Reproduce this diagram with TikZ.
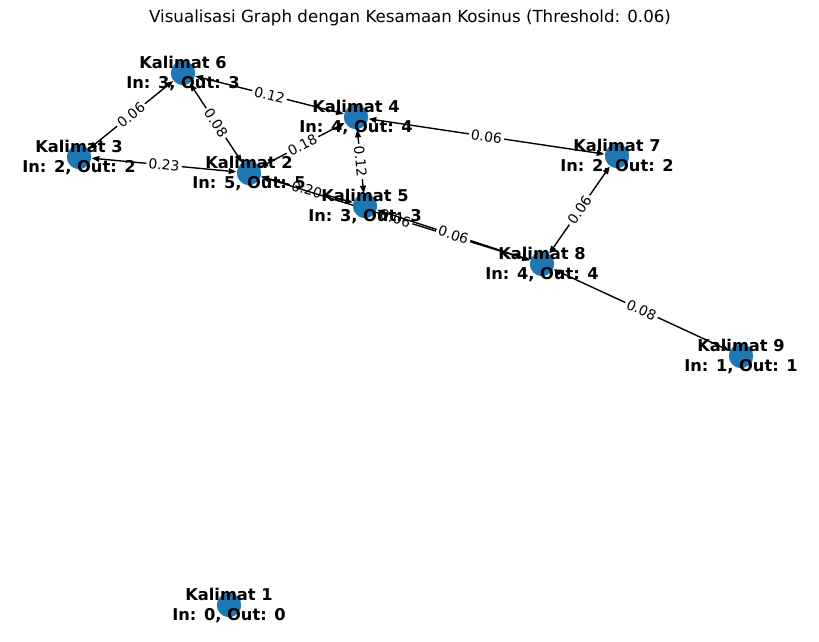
\documentclass[tikz,border=0pt]{standalone}
\usepackage{fontspec}
\setmainfont{DejaVu Sans}
\usetikzlibrary{arrows.meta}
\definecolor{nodeblue}{HTML}{1F77B4}
\begin{document}
\begin{tikzpicture}[x=0.72pt,y=-0.72pt,
  vert/.style={circle,fill=nodeblue,minimum size=17.3pt,inner sep=0pt,draw=none},
  vtext/.style={align=center,font=\fontsize{11.7}{14.4}\selectfont\bfseries,inner sep=0pt,text=black},
  edge/.style={line width=1pt,{Triangle[length=5.5pt,width=4.2pt]}-{Triangle[length=5.5pt,width=4.2pt]},shorten <=0.3pt,shorten >=0.3pt},
  elab/.style={sloped,fill=white,rounded corners=2pt,inner sep=1.6pt,font=\fontsize{10}{12}\selectfont,text=black}]
\useasboundingbox (0,0) rectangle (819,642);
\node[font=\fontsize{12}{14.4}\selectfont] (title) at (410,18) {Visualisasi Graph dengan Kesamaan Kosinus (Threshold: 0.06)};
% vertices
\node[vert] (n1) at (229,605) {};
\node[vert] (n2) at (249,173) {};
\node[vert] (n3) at (79,157) {};
\node[vert] (n4) at (356,117) {};
\node[vert] (n5) at (365,206) {};
\node[vert] (n6) at (183,73) {};
\node[vert] (n7) at (617,156) {};
\node[vert] (n8) at (542,264) {};
\node[vert] (n9) at (741,356) {};
% edges (both directions overlap, so tips at both ends)
\draw[edge] (n3) -- node[elab]{0.06} (n6);
\draw[edge] (n3) -- node[elab]{0.23} (n2);
\draw[edge] (n6) -- node[elab]{0.08} (n2);
\draw[edge] (n6) -- node[elab]{0.12} (n4);
\draw[edge] (n2) -- node[elab]{0.18} (n4);
\draw[edge] (n2) -- node[elab]{0.20} (n5);
\draw[edge] (n2) -- node[elab]{0.06} (n8);
\draw[edge] (n4) -- node[elab]{0.12} (n5);
\draw[edge] (n4) -- node[elab]{0.06} (n7);
\draw[edge] (n5) -- node[elab]{0.06} (n8);
\draw[edge] (n8) -- node[elab]{0.06} (n7);
\draw[edge] (n8) -- node[elab]{0.08} (n9);
% redraw vertices on top of edges
\foreach \p in {n1,n2,n3,n4,n5,n6,n7,n8,n9} {\fill[nodeblue] (\p.center) circle (8.65pt);}
% vertex texts
\node[vtext] (t1) at (n1) {Kalimat 1\\In: 0, Out: 0};
\node[vtext] (t2) at (n2) {Kalimat 2\\In: 5, Out: 5};
\node[vtext] (t3) at (n3) {Kalimat 3\\In: 2, Out: 2};
\node[vtext] (t4) at (n4) {Kalimat 4\\In: 4, Out: 4};
\node[vtext] (t5) at (n5) {Kalimat 5\\In: 3, Out: 3};
\node[vtext] (t6) at (n6) {Kalimat 6\\In: 3, Out: 3};
\node[vtext] (t7) at (n7) {Kalimat 7\\In: 2, Out: 2};
\node[vtext] (t8) at (n8) {Kalimat 8\\In: 4, Out: 4};
\node[vtext] (t9) at (n9) {Kalimat 9\\In: 1, Out: 1};
\end{tikzpicture}
\end{document}
